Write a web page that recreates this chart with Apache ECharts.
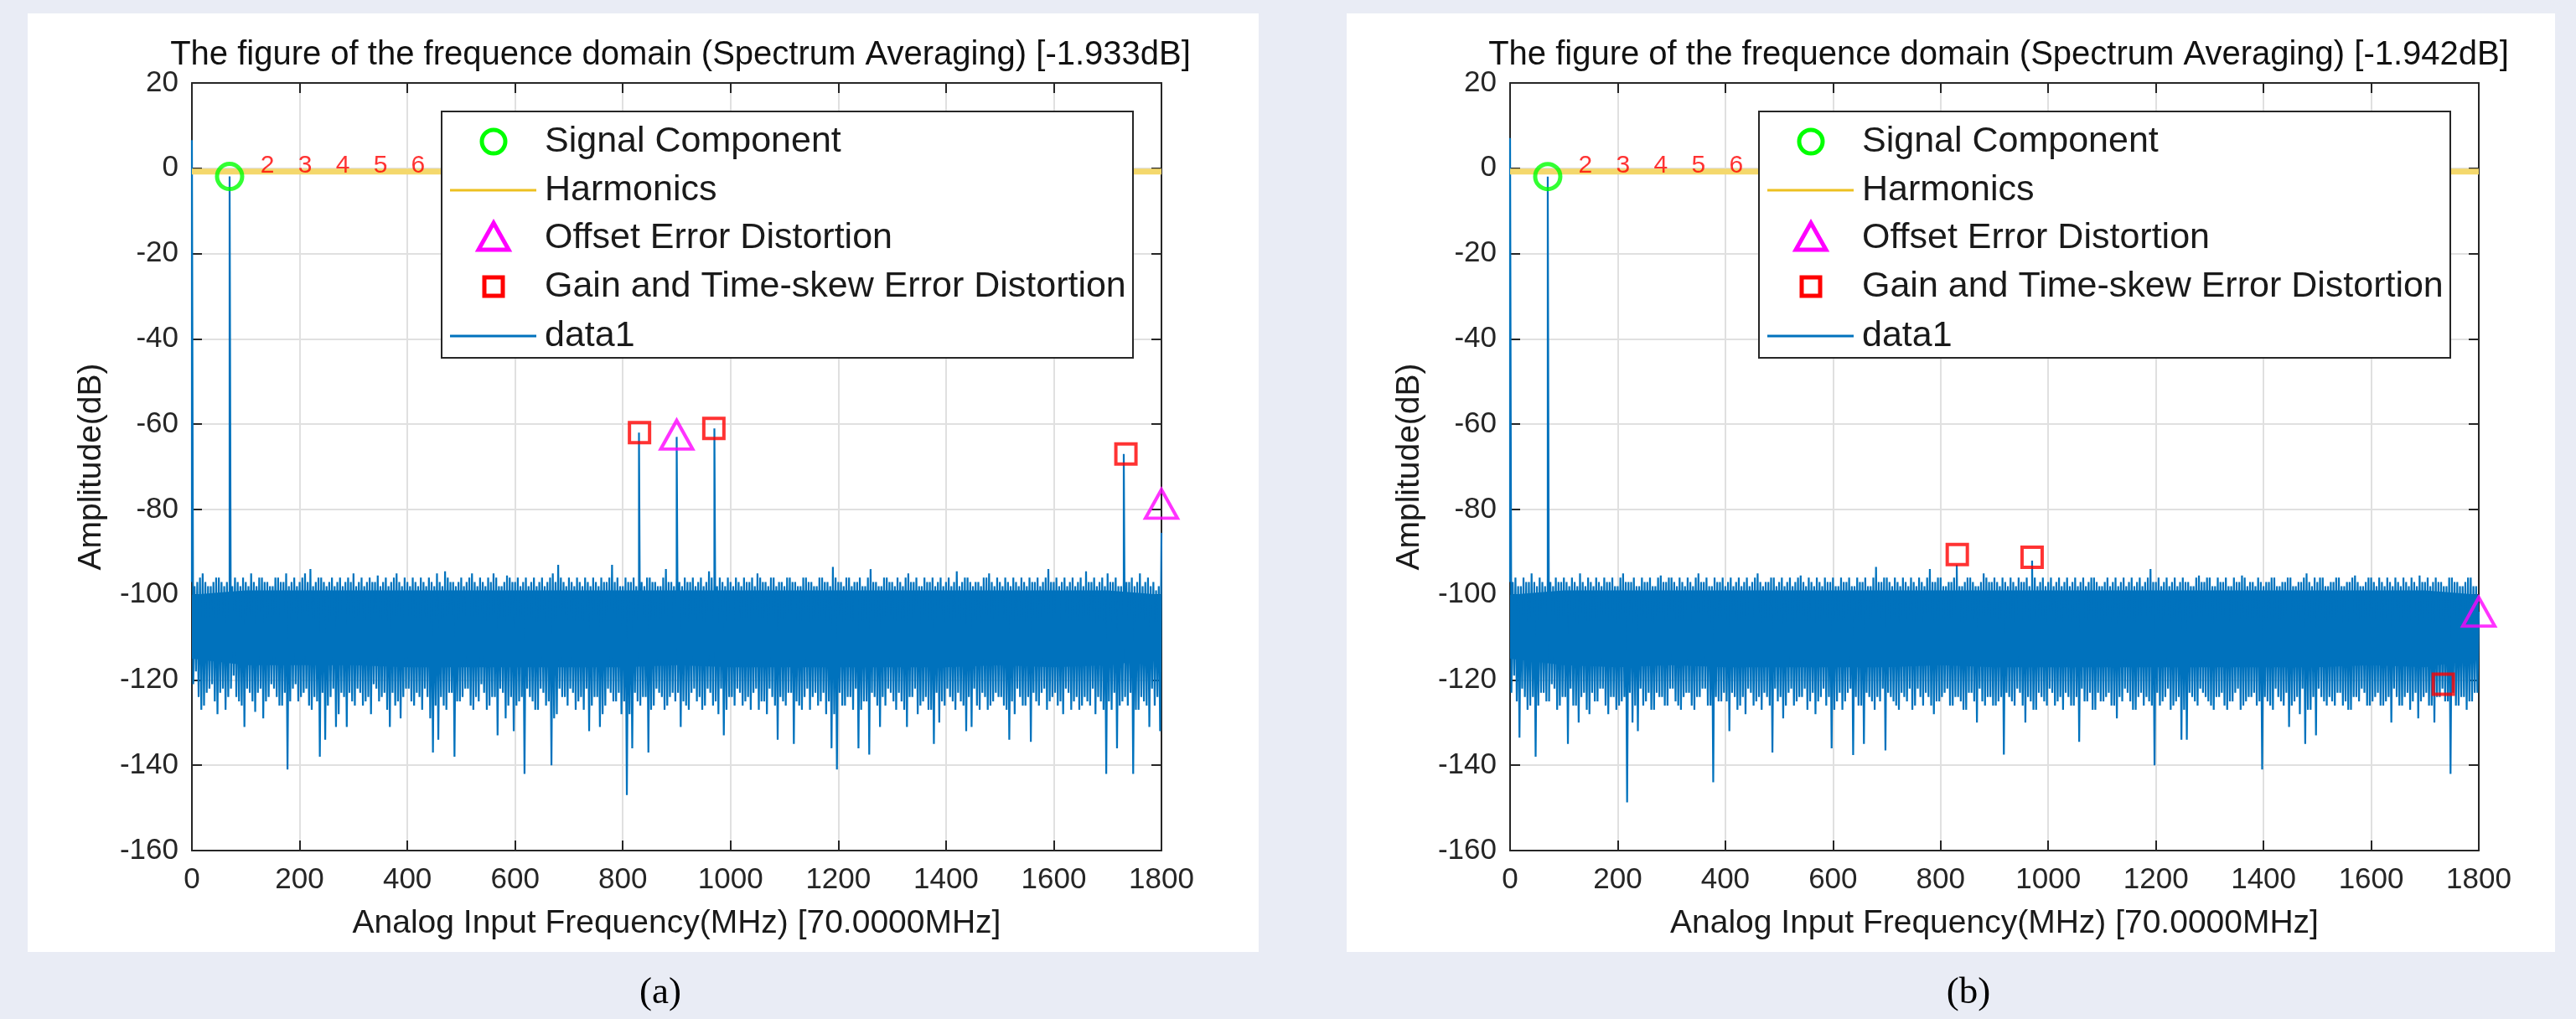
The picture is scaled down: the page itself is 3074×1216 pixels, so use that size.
<!DOCTYPE html>
<html>
<head>
<meta charset="utf-8">
<title>Spectrum averaging</title>
<script src="https://cdn.jsdelivr.net/npm/echarts@6.0.0/dist/echarts.min.js"></script>
<style>
	html, body { margin: 0; padding: 0; background: #e9ecf5; }
	#chart { width: 3074px; height: 1216px; }
</style>
</head>
<body>
<div id="chart"></div>
<script>
	// ---- data ----
	var titleA = "The figure of the frequence domain (Spectrum Averaging) [-1.933dB]";
	var titleB = "The figure of the frequence domain (Spectrum Averaging) [-1.942dB]";
	var xName = "Analog Input Frequency(MHz) [70.0000MHz]";
	var yName = "Amplitude(dB)";
	var legendNames = ["Signal Component", "Harmonics", "Offset Error Distortion", "Gain and Time-skew Error Distortion", "data1"];

	// noise floor, one bin per 10 MHz, four readings per bin:
	// top at f, bottom at f+2.5, top at f+5, bottom at f+7.5
	var binStep = 10;
	var noiseHiA = [
		-97, -97, -95, -98, -97, -96, -98, -97, -96, -98,
		-97, -95, -98, -96, -97, -98, -96, -97, -98, -96,
		-97, -95, -94, -97, -96, -98, -96, -97, -98, -96,
		-95, -97, -98, -96, -97, -98, -96, -97, -95, -98,
		-97, -96, -98, -97, -96, -98, -97, -94.5, -97, -98,
		-96, -97, -95, -98, -97, -96, -95, -98, -97, -96,
		-97, -98, -96, -97, -98, -96, -97, -95, -93, -97,
		-96, -98, -97, -96, -98, -97, -96, -97, -93, -96,
		-98, -97, -96, -97, -98, -96, -97, -98, -94, -97,
		-96, -98, -97, -96, -97, -98, -94.5, -97, -96, -98,
		-97, -96, -98, -97, -96, -95, -97, -98, -96, -97,
		-98, -96, -97, -98, -96, -97, -98, -96, -97, -93.5,
		-97, -98, -96, -97, -96, -98, -94, -97, -98, -96,
		-97, -96, -98, -95, -97, -98, -96, -97, -98, -96,
		-97, -98, -94.5, -97, -96, -98, -97, -96, -95, -98,
		-97, -96, -98, -97, -96, -98, -97, -96, -97, -94,
		-97, -98, -96, -97, -98, -96, -94.5, -97, -98, -96,
		-95, -97, -98, -96, -97, -98, -95, -97, -98, -99
	];
	var noiseHi2A = [
		-98, -96, -97, -98, -96, -97, -97, -98, -97, -96,
		-98, -97, -96, -97, -98, -96, -97, -95, -97, -98,
		-96, -97, -98, -96, -97, -97, -98, -96, -97, -97,
		-98, -96, -97, -97, -95.5, -97, -98, -96, -97, -96,
		-98, -97, -96, -98, -97, -95, -98, -96, -97, -97,
		-98, -96, -97, -96, -98, -97, -96, -98, -95.5, -97,
		-96, -97, -98, -96, -97, -98, -96, -97, -96, -98,
		-97, -96, -98, -97, -96, -98, -97, -96, -97, -98,
		-96, -97, -98, -97, -96, -97, -98, -96, -97, -98,
		-97, -96, -97, -98, -96, -97, -96, -98, -97, -96,
		-98, -97, -96, -97, -98, -96, -97, -96, -98, -97,
		-96, -97, -98, -96, -97, -98, -96, -97, -98, -96,
		-97, -96, -98, -97, -98, -96, -97, -98, -96, -97,
		-98, -97, -96, -97, -96, -98, -97, -96, -97, -98,
		-96, -97, -98, -96, -97, -97, -98, -96, -97, -96,
		-98, -97, -96, -98, -97, -96, -97, -98, -96, -97,
		-96, -97, -98, -96, -97, -98, -97, -96, -97, -98,
		-97, -96, -98, -97, -96, -97, -98, -96, -97, -98
	];
	var noiseLoA = [
		-118, -127, -123, -121, -128, -122, -124, -119, -125, -131,
		-123, -127.5, -122, -125, -121, -124, -126, -141, -122, -125,
		-123, -126, -124, -138, -134, -124, -131, -123, -131, -125,
		-122, -126, -124, -121, -125, -123, -131, -126, -129, -122,
		-125, -123, -127, -124, -137, -134, -126, -123, -138, -125,
		-122, -126, -124, -121, -127, -124, -133, -123, -126, -132,
		-125, -142, -124, -127, -122, -126, -140, -128, -124, -126,
		-123, -125, -127, -132, -124, -131, -126, -123, -125, -128,
		-147, -136, -125, -124, -137, -126, -123, -127, -124, -125,
		-131, -126, -123, -125, -127, -122, -126, -128, -133, -124,
		-126, -123, -125, -127, -122, -125, -128, -124, -134, -125,
		-123, -135, -126, -124, -127, -123, -125, -128, -136, -141,
		-126, -124, -127, -136, -125, -137.5, -124, -131, -126, -123,
		-127, -125, -131, -124, -128, -125, -127, -135, -130, -126,
		-124, -127, -125, -132, -131, -126, -123, -127, -125, -124,
		-126, -134, -128, -124, -126, -134.5, -125, -123, -127, -124,
		-126, -128, -123, -125, -127, -124, -126, -128, -125, -142,
		-127, -136, -125, -126, -142, -127, -125, -131, -126, -132
	];
	var noiseLo2A = [
		-121, -124, -126, -122, -125, -123, -127, -122, -124, -126,
		-122, -125, -123, -129, -124, -122, -126, -123, -125, -121,
		-124, -122, -127, -125, -123, -126, -122, -128, -124, -123,
		-126, -123, -125, -128, -122, -124, -127, -123, -125, -124,
		-122, -126, -124, -122, -129, -126, -124, -127, -123, -125,
		-124, -122, -127, -125, -123, -126, -124, -122, -129, -124,
		-126, -124, -122, -125, -127, -123, -125, -129, -122, -124,
		-122, -127, -124, -122, -126, -124, -128, -122, -125, -123,
		-125, -128, -123, -126, -124, -127, -122, -124, -126, -123,
		-123, -125, -127, -122, -124, -126, -123, -125, -122, -127,
		-124, -122, -126, -124, -123, -127, -125, -122, -126, -124,
		-126, -123, -125, -127, -122, -124, -126, -123, -125, -128,
		-123, -126, -124, -122, -127, -125, -123, -126, -124, -122,
		-125, -123, -127, -124, -122, -126, -124, -127, -123, -125,
		-122, -125, -123, -126, -124, -122, -127, -124, -126, -123,
		-124, -127, -125, -122, -126, -124, -123, -126, -122, -125,
		-123, -125, -122, -127, -124, -126, -125, -122, -124, -127,
		-125, -123, -126, -124, -123, -127, -124, -126, -122, -124
	];
	var noiseHiB = [
		-97, -96, -98, -97, -95, -98, -97, -96, -98, -97,
		-96, -98, -97, -95, -98, -97, -96, -98, -97, -96,
		-98, -95, -97, -96, -98, -97, -96, -98, -95.5, -97,
		-96, -98, -97, -96, -98, -95, -97, -98, -96, -97,
		-98, -96, -97, -98, -96, -97, -95, -98, -97, -96,
		-97, -98, -96, -97, -95.5, -98, -97, -96, -98, -97,
		-96, -98, -97, -96, -98, -97, -96, -98, -93.5, -97,
		-96, -98, -97, -96, -98, -97, -96, -98, -94, -97,
		-96, -98, -97, -96, -98, -96, -97, -98, -95, -97,
		-96, -98, -97, -96, -98, -97, -96, -97, -98, -96,
		-97, -98, -96, -97, -98, -96, -97, -98, -96, -97,
		-98, -96, -97, -98, -96, -97, -98, -96, -97, -94,
		-97, -98, -96, -97, -98, -96, -97, -98, -95.5, -97,
		-96, -98, -97, -96, -98, -97, -95.5, -98, -97, -96,
		-98, -97, -96, -98, -97, -96, -98, -97, -95, -98,
		-97, -96, -98, -97, -96, -98, -97, -95.5, -98, -97,
		-96, -98, -97, -96, -98, -97, -96, -98, -97, -95.5,
		-97, -98, -96, -97, -98, -96, -97, -98, -96, -98
	];
	var noiseHi2B = [
		-97, -98, -96, -97, -97, -96, -98, -97, -96, -97,
		-97, -96, -98, -97, -96, -98, -97, -96, -97, -98,
		-96, -97, -97, -98, -96, -97, -98, -96, -97, -96,
		-97, -96, -98, -97, -96, -97, -96, -98, -97, -96,
		-97, -98, -96, -97, -98, -96, -97, -97, -96, -98,
		-96, -97, -98, -96, -97, -96, -98, -97, -96, -97,
		-98, -96, -97, -98, -96, -97, -98, -96, -97, -96,
		-97, -96, -98, -97, -96, -98, -97, -96, -97, -96,
		-98, -97, -96, -98, -97, -96, -98, -97, -96, -97,
		-97, -96, -98, -97, -96, -97, -98, -96, -97, -98,
		-96, -97, -98, -96, -97, -98, -96, -97, -96, -98,
		-97, -98, -96, -97, -98, -96, -97, -98, -96, -97,
		-96, -97, -98, -96, -97, -97, -98, -96, -97, -96,
		-98, -96, -97, -98, -96, -97, -96, -97, -98, -97,
		-97, -96, -98, -97, -96, -98, -97, -96, -97, -96,
		-96, -98, -97, -96, -98, -97, -96, -97, -98, -96,
		-97, -96, -98, -97, -96, -98, -97, -96, -98, -97,
		-96, -97, -97, -98, -96, -97, -98, -97, -96, -98
	];
	var noiseLoB = [
		-119, -133.5, -124, -126, -138, -123, -125, -121, -127, -124,
		-135, -126, -130, -123, -128, -125, -122, -126, -124, -127,
		-125, -148.7, -130, -132, -126, -123, -127, -124, -126, -122,
		-125, -127, -123, -126, -124, -122, -126, -144, -125, -123,
		-132, -124, -126, -128, -123, -125, -127, -124, -137, -125,
		-129, -123, -126, -124, -122, -125, -128, -124, -126, -136,
		-125, -127, -123, -137.6, -126, -135, -124, -127, -125, -136.5,
		-124, -126, -123, -125, -127, -122, -126, -124, -128, -125,
		-123, -126, -124, -125, -127, -123, -130, -125, -124, -126,
		-125, -137.5, -124, -126, -123, -130, -125, -127, -124, -126,
		-123, -125, -127, -124, -126, -134.5, -125, -123, -127, -125,
		-124, -126, -129, -125, -123, -127, -124, -126, -125, -140,
		-126, -124, -127, -125, -134, -134, -124, -126, -123, -125,
		-127, -124, -126, -125, -123, -127, -125, -124, -126, -141,
		-125, -127, -124, -126, -131, -125, -128, -135, -127, -133,
		-124, -126, -125, -123, -126, -127, -124, -125, -123, -126,
		-124, -126, -125, -130, -124, -126, -123, -125, -129, -124,
		-126, -130, -124, -125, -142, -126, -124, -127, -125, -123
	];
	var noiseLo2B = [
		-123, -125, -122, -127, -124, -126, -123, -125, -122, -126,
		-124, -122, -126, -124, -127, -123, -125, -122, -128, -124,
		-126, -124, -123, -126, -122, -125, -127, -123, -124, -126,
		-122, -126, -124, -123, -127, -124, -122, -126, -124, -125,
		-125, -123, -127, -124, -122, -126, -124, -123, -126, -122,
		-124, -126, -122, -125, -124, -127, -123, -125, -122, -124,
		-127, -123, -125, -122, -124, -126, -123, -125, -124, -122,
		-123, -125, -127, -124, -122, -126, -124, -123, -126, -125,
		-124, -122, -126, -124, -127, -123, -125, -122, -126, -124,
		-126, -124, -123, -125, -122, -126, -124, -127, -123, -125,
		-122, -126, -124, -123, -126, -124, -122, -125, -127, -123,
		-125, -123, -126, -124, -122, -125, -127, -123, -124, -126,
		-123, -125, -122, -126, -124, -127, -123, -125, -122, -124,
		-126, -124, -123, -127, -125, -122, -126, -124, -123, -125,
		-124, -126, -122, -125, -123, -126, -124, -122, -127, -124,
		-122, -125, -124, -126, -123, -125, -127, -124, -122, -126,
		-125, -123, -126, -124, -122, -126, -124, -127, -123, -125,
		-123, -126, -124, -122, -125, -123, -126, -124, -125, -123
	];

	// solid core of the noise band, every 100 MHz
	var coreFreqs = [0, 100, 200, 300, 400, 500, 600, 700, 800, 900, 1000, 1100, 1200, 1300, 1400, 1500, 1600, 1700, 1800];
	var coreTopA = [-100, -99, -99, -99, -99, -99, -99, -99, -99, -99, -99, -99, -99, -99, -99, -99, -99, -99, -100];
	var coreBotA = [-115, -116.5, -116.5, -116.5, -117, -117, -117, -117, -117, -116.5, -117, -117, -117, -117, -117, -116.5, -117, -116.5, -115];
	var coreTopB = [-100, -99, -99, -99, -99, -99, -99, -99, -99, -99, -99, -99, -99, -99, -99, -99, -99, -99, -100];
	var coreBotB = [-115, -116.5, -117, -116.5, -117, -117, -117, -117, -116.5, -117, -117, -117, -117, -117, -117, -117, -116.5, -117, -115];

	// tall lines of the trace (DC, signal, spurs, Nyquist end)
	var peaksA = [[0, 6.6], [70, -1.933], [830, -62], [900, -63], [970, -61], [1730, -67], [1800, -85.5]];
	var peaksB = [[0, 7.1], [70, -1.942], [830, -93], [970, -92], [1800, -104]];

	// markers
	var signalA = [[70, -1.933]];
	var signalB = [[70, -1.942]];
	var offsetA = [[900, -62.5], [1800, -78.7]];
	var offsetB = [[1800, -104]];
	var gainA = [[831, -62], [969, -61], [1734, -67]];
	var gainB = [[831, -90.6], [970, -91.2], [1734, -121]];

	var harmLine = [[0, -0.8], [1800, -0.8]];
	var harmTags = ["2", "3", "4", "5", "6"];
	var harmFreqs = [140, 210, 280, 350, 420];
	var harmTagLevel = 0;

	// ---- chart ----
	var font = "Liberation Sans";
	var ink = "#262626";
	var blue = "#0072BD";
	var green = "#00ff00";
	var magenta = "#ff00ff";
	var red = "#ff0000";
	var gold = "#edc020";

	function buildTrace(hi, lo2, hi2, lo, peaks) {
		var pts = [];
		for (var i = 0; i < hi.length; i++) {
			var f = i * binStep;
			pts.push([f, hi[i]]);
			pts.push([f + binStep / 4, lo2[i]]);
			pts.push([f + binStep / 2, hi2[i]]);
			pts.push([f + binStep * 3 / 4, lo[i]]);
		}
		for (var j = 0; j < peaks.length; j++) {
			pts.push([peaks[j][0], peaks[j][1]]);
		}
		pts.sort(function(a, b) { return a[0] - b[0]; });
		return pts;
	}

	var tickText = function(v) { return String(v); };

	function bottomX(gi) {
		return {
			gridIndex: gi, type: "value", min: 0, max: 1800, interval: 200,
			name: xName, nameLocation: "middle", nameGap: 68,
			nameTextStyle: { fontSize: 39, color: "#1a1a1a", fontFamily: font },
			axisLine: { onZero: false, lineStyle: { color: ink, width: 2 } },
			axisTick: { inside: true, length: 12, lineStyle: { color: ink, width: 2 } },
			axisLabel: { fontSize: 35, color: ink, margin: 18, fontFamily: font, formatter: tickText },
			splitLine: { show: true, lineStyle: { color: "#e0e0e0", width: 2 } }
		};
	}
	function topX(gi) {
		return {
			gridIndex: gi, type: "value", min: 0, max: 1800, interval: 200, position: "top",
			axisLine: { onZero: false, lineStyle: { color: ink, width: 2 } },
			axisTick: { inside: true, length: 12, lineStyle: { color: ink, width: 2 } },
			axisLabel: { show: false }, splitLine: { show: false }
		};
	}
	function leftY(gi) {
		return {
			gridIndex: gi, type: "value", min: -160, max: 20, interval: 20,
			name: yName, nameLocation: "middle", nameGap: 100,
			nameTextStyle: { fontSize: 39, color: "#1a1a1a", fontFamily: font },
			axisLine: { onZero: false, lineStyle: { color: ink, width: 2 } },
			axisTick: { inside: true, length: 12, lineStyle: { color: ink, width: 2 } },
			axisLabel: { fontSize: 35, color: ink, margin: 16, fontFamily: font, formatter: tickText },
			splitLine: { show: true, lineStyle: { color: "#e0e0e0", width: 2 } }
		};
	}
	function rightY(gi) {
		return {
			gridIndex: gi, type: "value", min: -160, max: 20, interval: 20, position: "right",
			axisLine: { onZero: false, lineStyle: { color: ink, width: 2 } },
			axisTick: { inside: true, length: 12, lineStyle: { color: ink, width: 2 } },
			axisLabel: { show: false }, splitLine: { show: false }
		};
	}

	// boxed legend drawn by hand so the marker glyphs keep their shape
	function legendBox(x0, y0) {
		var rowY = [36, 94, 151, 209, 268];
		var cx = x0 + 62;
		var top = 100;
		var kids = [{
			type: "rect", z: top, shape: { x: x0, y: y0, width: 825, height: 294 },
			style: { fill: "#ffffff", stroke: ink, lineWidth: 2 }
		}];
		kids.push({ type: "circle", z: top + 1, shape: { cx: cx, cy: y0 + rowY[0], r: 14 }, style: { fill: "none", stroke: green, lineWidth: 5 } });
		kids.push({ type: "line", z: top + 1, shape: { x1: x0 + 10, y1: y0 + rowY[1], x2: x0 + 113, y2: y0 + rowY[1] }, style: { stroke: gold, lineWidth: 3 } });
		kids.push({ type: "polygon", z: top + 1, shape: { points: [[cx, y0 + rowY[2] - 18], [cx + 18, y0 + rowY[2] + 14], [cx - 18, y0 + rowY[2] + 14]] }, style: { fill: "none", stroke: magenta, lineWidth: 5 } });
		kids.push({ type: "rect", z: top + 1, shape: { x: cx - 11, y: y0 + rowY[3] - 11, width: 22, height: 22 }, style: { fill: "none", stroke: red, lineWidth: 5 } });
		kids.push({ type: "line", z: top + 1, shape: { x1: x0 + 10, y1: y0 + rowY[4], x2: x0 + 113, y2: y0 + rowY[4] }, style: { stroke: blue, lineWidth: 3 } });
		for (var i = 0; i < legendNames.length; i++) {
			kids.push({
				type: "text", z: top + 1, style: {
					text: legendNames[i], x: x0 + 123, y: y0 + rowY[i], fill: "#1a1a1a",
					fontSize: 43, fontFamily: font, verticalAlign: "middle", align: "left"
				}
			});
		}
		return kids;
	}

	function coreBand(ax, top, bot) {
		var rows = [];
		for (var i = 0; i < coreFreqs.length; i++) rows.push([coreFreqs[i], top[i], bot[i]]);
		return {
			type: "custom", xAxisIndex: ax, yAxisIndex: ax, silent: true, z: 2,
			data: rows, encode: { x: 0, y: [1, 2] },
			renderItem: function(params, api) {
				if (params.dataIndex !== 0) return null;
				var pts = [];
				for (var k = 0; k < rows.length; k++) pts.push(api.coord([rows[k][0], rows[k][1]]));
				for (var m = rows.length - 1; m >= 0; m--) pts.push(api.coord([rows[m][0], rows[m][2]]));
				return { type: "polygon", shape: { points: pts }, style: { fill: blue } };
			}
		};
	}

	function panelSeries(ax, noise, peaks, coreTop, coreBot, signal, offset, gain) {
		var tags = [];
		for (var i = 0; i < harmTags.length; i++) {
			tags.push({ name: harmTags[i], value: [harmFreqs[i], harmTagLevel] });
		}
		return [
			coreBand(ax, coreTop, coreBot),
			{
				name: "data1", type: "line", xAxisIndex: ax, yAxisIndex: ax,
				data: buildTrace(noise[0], noise[1], noise[2], noise[3], peaks), symbol: "none", sampling: null, z: 3,
				lineStyle: { color: blue, width: 2.2 }, itemStyle: { color: blue }
			},
			{
				name: "Harmonics", type: "line", xAxisIndex: ax, yAxisIndex: ax, data: harmLine, symbol: "none",
				lineStyle: { color: "#f4d86c", width: 7 }, itemStyle: { color: gold }, z: 4
			},
			{
				name: "Signal Component", type: "scatter", xAxisIndex: ax, yAxisIndex: ax, data: signal,
				symbol: "circle", symbolSize: 30, z: 5,
				itemStyle: { color: "rgba(0,0,0,0)", borderColor: green, borderWidth: 5 }
			},
			{
				name: "Offset Error Distortion", type: "scatter", xAxisIndex: ax, yAxisIndex: ax, data: offset,
				symbol: "triangle", symbolSize: [38, 34], clip: false, z: 5,
				itemStyle: { color: "rgba(0,0,0,0)", borderColor: magenta, borderWidth: 4 }
			},
			{
				name: "Gain and Time-skew Error Distortion", type: "scatter", xAxisIndex: ax, yAxisIndex: ax, data: gain,
				symbol: "rect", symbolSize: 24, z: 5,
				itemStyle: { color: "rgba(0,0,0,0)", borderColor: red, borderWidth: 4 }
			},
			{
				type: "scatter", xAxisIndex: ax, yAxisIndex: ax, data: tags, symbolSize: 1, z: 5, silent: true,
				itemStyle: { color: "rgba(0,0,0,0)" },
				label: { show: true, position: "inside", offset: [0, -3], formatter: "{b}", color: red, fontSize: 30, fontFamily: font }
			}
		];
	}

	var chart = echarts.init(document.getElementById("chart"), null, { renderer: "canvas" });

	var titleStyle = { fontSize: 40, fontWeight: "normal", color: "#111111", fontFamily: font };
	var capStyle = { fontSize: 45, fontWeight: "normal", color: "#000000", fontFamily: "Liberation Serif" };

	var option = {
		backgroundColor: "#e9ecf5",
		animation: false,
		graphic: {
			elements: [
				{ type: "rect", z: -10, shape: { x: 33, y: 16, width: 1469, height: 1120 }, style: { fill: "#ffffff" } },
				{ type: "rect", z: -10, shape: { x: 1607, y: 16, width: 1442, height: 1120 }, style: { fill: "#ffffff" } }
			].concat(legendBox(527, 133), legendBox(2099, 133))
		},
		title: [
			{ text: titleA, left: 807, top: 41, textAlign: "center", textStyle: titleStyle },
			{ text: titleB, left: 2380, top: 41, textAlign: "center", textStyle: titleStyle },
			{ text: "(a)", left: 783, top: 1158, textAlign: "center", textStyle: capStyle },
			{ text: "(b)", left: 2344, top: 1158, textAlign: "center", textStyle: capStyle }
		],
		grid: [
			{ left: 229, right: 3074 - 1386, top: 99, bottom: 1216 - 1015 },
			{ left: 1802, right: 3074 - 2958, top: 99, bottom: 1216 - 1015 }
		],
		xAxis: [bottomX(0), bottomX(1), topX(0), topX(1)],
		yAxis: [leftY(0), leftY(1), rightY(0), rightY(1)],
		series: panelSeries(0, [noiseHiA, noiseLo2A, noiseHi2A, noiseLoA], peaksA, coreTopA, coreBotA, signalA, offsetA, gainA)
			.concat(panelSeries(1, [noiseHiB, noiseLo2B, noiseHi2B, noiseLoB], peaksB, coreTopB, coreBotB, signalB, offsetB, gainB))
	};

	chart.setOption(option);
</script>
</body>
</html>
